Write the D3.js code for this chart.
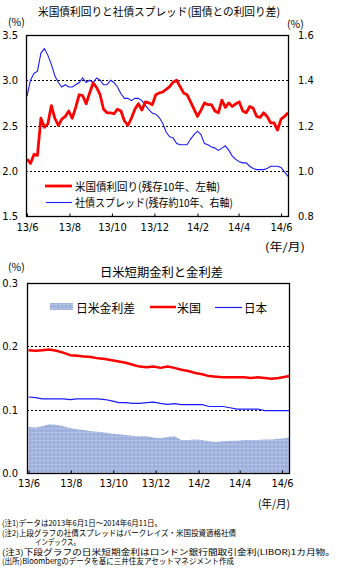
<!DOCTYPE html>
<html><head><meta charset="utf-8">
<script src="https://cdn.jsdelivr.net/npm/d3@7/dist/d3.min.js"></script>
<style>
html,body{margin:0;padding:0;background:#fff;}
svg{display:block;font-family:"Noto Sans CJK JP","Noto Sans",sans-serif;}
</style></head>
<body>
<svg id="c" width="359" height="587"></svg>
<script>
// ---------- DATA ----------
const topDates = [
"2013-06-01","2013-06-06","2013-06-11","2013-06-16","2013-06-21","2013-06-26",
"2013-07-01","2013-07-06","2013-07-11","2013-07-16","2013-07-21","2013-07-26","2013-07-31",
"2013-08-05","2013-08-10","2013-08-15","2013-08-20","2013-08-25","2013-08-30",
"2013-09-04","2013-09-09","2013-09-14","2013-09-19","2013-09-24","2013-09-29",
"2013-10-04","2013-10-09","2013-10-14","2013-10-19","2013-10-24","2013-10-29",
"2013-11-03","2013-11-08","2013-11-13","2013-11-18","2013-11-23","2013-11-28",
"2013-12-03","2013-12-08","2013-12-13","2013-12-18","2013-12-23","2013-12-28",
"2014-01-02","2014-01-07","2014-01-12","2014-01-17","2014-01-22","2014-01-27",
"2014-02-01","2014-02-06","2014-02-11","2014-02-16","2014-02-21","2014-02-26",
"2014-03-03","2014-03-08","2014-03-13","2014-03-18","2014-03-23","2014-03-28",
"2014-04-02","2014-04-07","2014-04-12","2014-04-17","2014-04-22","2014-04-27",
"2014-05-02","2014-05-07","2014-05-12","2014-05-17","2014-05-22","2014-05-27",
"2014-06-01","2014-06-06","2014-06-11"];
// US 10y treasury yield (%, left axis)
const usYield = [
2.13,2.08,2.18,2.17,2.58,2.48,2.52,2.72,2.58,2.50,2.57,2.60,2.66,
2.58,2.70,2.84,2.83,2.74,2.86,2.97,2.92,2.84,2.68,2.64,2.64,
2.63,2.68,2.66,2.55,2.50,2.58,2.68,2.74,2.67,2.76,2.75,2.73,
2.84,2.86,2.87,2.90,2.93,2.98,3.00,2.93,2.86,2.84,2.76,2.68,
2.60,2.67,2.75,2.73,2.73,2.66,2.64,2.78,2.70,2.75,2.71,2.74,
2.76,2.66,2.64,2.71,2.69,2.60,2.59,2.64,2.60,2.53,2.53,2.45,
2.57,2.60,2.64];
// corporate spread (%, right axis)
const corpSpread = [
1.33,1.40,1.43,1.44,1.52,1.54,1.51,1.47,1.42,1.39,1.37,1.38,1.37,
1.37,1.38,1.39,1.41,1.39,1.40,1.39,1.41,1.40,1.38,1.38,1.40,
1.39,1.37,1.34,1.32,1.32,1.31,1.32,1.32,1.31,1.29,1.27,1.255,
1.25,1.235,1.21,1.17,1.15,1.145,1.12,1.115,1.115,1.115,1.14,1.16,
1.175,1.16,1.12,1.115,1.105,1.10,1.09,1.10,1.11,1.09,1.065,1.05,
1.04,1.035,1.035,1.02,1.01,1.005,1.005,1.005,1.01,1.02,1.02,1.02,
1.015,0.995,0.975];

const botDates = [
"2013-06-01","2013-06-11","2013-06-21","2013-07-01","2013-07-11","2013-07-21","2013-07-31",
"2013-08-10","2013-08-20","2013-08-30","2013-09-09","2013-09-19","2013-09-29",
"2013-10-09","2013-10-19","2013-10-29","2013-11-08","2013-11-18","2013-11-28",
"2013-12-08","2013-12-18","2013-12-28","2014-01-07","2014-01-17","2014-01-27",
"2014-02-06","2014-02-16","2014-02-26","2014-03-08","2014-03-18","2014-03-28",
"2014-04-07","2014-04-17","2014-04-27","2014-05-07","2014-05-17","2014-05-27",
"2014-06-06","2014-06-11"];
const usRate = [
0.194,0.193,0.194,0.195,0.193,0.190,0.186,0.185,0.184,0.183,0.181,0.180,0.178,
0.176,0.174,0.171,0.168,0.167,0.168,0.166,0.168,0.166,0.163,0.161,0.158,
0.156,0.153,0.152,0.151,0.151,0.151,0.151,0.150,0.151,0.150,0.149,0.150,
0.152,0.153];
const jpRate = [
0.120,0.119,0.117,0.117,0.117,0.117,0.116,0.117,0.117,0.117,0.117,0.116,0.114,
0.111,0.111,0.110,0.110,0.111,0.112,0.110,0.1085,0.1095,0.108,0.108,0.108,
0.108,0.105,0.105,0.105,0.103,0.101,0.101,0.101,0.101,0.0985,0.0985,0.0985,
0.0985,0.0985];
const rateGap = [
0.073,0.072,0.074,0.077,0.076,0.074,0.071,0.069,0.068,0.066,0.065,0.064,0.062,
0.061,0.060,0.059,0.058,0.058,0.056,0.055,0.057,0.058,0.052,0.052,0.053,
0.052,0.050,0.049,0.050,0.051,0.051,0.052,0.052,0.052,0.053,0.053,0.054,
0.055,0.056];

const xTickDates = ["2013-06-01","2013-08-01","2013-10-01","2013-12-01","2014-02-01","2014-04-01","2014-06-01"];
const xTickLabels = ["13/6","13/8","13/10","13/12","14/2","14/4","14/6"];
const topLeftTicks = [1.5,2.0,2.5,3.0,3.5];
const topRightTicks = [0.8,1.0,1.2,1.4,1.6];
const botTicks = [0.0,0.1,0.2,0.3];

const notes = [
"(注1)データは2013年6月1日～2014年6月11日。",
"(注2)上段グラフの社債スプレッドはバークレイズ・米国投資適格社債",
"インデックス。",
"(注3)下段グラフの日米短期金利はロンドン銀行間取引金利(LIBOR)1カ月物。",
"(出所)Bloombergのデータを基に三井住友アセットマネジメント作成"];

// ---------- DRAW ----------
const parse = d3.timeParse("%Y-%m-%d");
const svg = d3.select("#c");
const RED = "#ff0000", BLUE = "#1a1aff";
const fmt1 = d3.format(".1f");
const NUMFONT = "'DejaVu Sans Condensed','DejaVu Sans',sans-serif";

// pattern for area
const defs = svg.append("defs");
const pat = defs.append("pattern").attr("id","stip").attr("width",4).attr("height",4).attr("patternUnits","userSpaceOnUse");
pat.append("rect").attr("width",4).attr("height",4).attr("fill","#a3b5df");
pat.append("rect").attr("x",0).attr("y",0).attr("width",1).attr("height",1).attr("fill","#c3cfe9");
pat.append("rect").attr("x",2).attr("y",2).attr("width",1).attr("height",1).attr("fill","#8ea3d6");
pat.append("rect").attr("x",3).attr("y",0).attr("width",1).attr("height",1).attr("fill","#b5c7d8");
pat.append("rect").attr("x",1).attr("y",3).attr("width",1).attr("height",1).attr("fill","#98acd9");

function txt(x,y,s,size,opts={}){
  const t = svg.append("text").attr("x",x).attr("y",y).attr("font-size",size).attr("fill","#000").text(s);
  if(opts.anchor) t.attr("text-anchor",opts.anchor);
  if(opts.len){ t.attr("textLength",opts.len).attr("lengthAdjust","spacingAndGlyphs"); }
  if(opts.mid) t.attr("dominant-baseline","central");
  return t;
}

// ===== Top chart =====
const T = {l:26, r:288, t:35, b:216};
const xT = d3.scaleTime().domain([parse("2013-06-01"), parse("2014-06-11")]).range([27, 288]);
const yL = d3.scaleLinear().domain([1.5,3.5]).range([T.b, T.t]);
const yR = d3.scaleLinear().domain([0.8,1.6]).range([T.b, T.t]);

txt(38,16,"米国債利回りと社債スプレッド(国債との利回り差)",11,{len:242});
txt(8,26,"(%)",10.5);
txt(287,28,"(%)",10.5);

svg.append("g").selectAll("line").data([2.0,2.5,3.0]).join("line")
  .attr("x1",T.l).attr("x2",T.r).attr("y1",d=>Math.round(yL(d))+0.5).attr("y2",d=>Math.round(yL(d))+0.5)
  .attr("stroke","#000").attr("stroke-width",1).attr("stroke-dasharray","2,2");

const topData = topDates.map((d,i)=>({date:parse(d), us:usYield[i], sp:corpSpread[i]}));
svg.append("path").datum(topData)
  .attr("d", d3.line().x(d=>xT(d.date)).y(d=>yR(d.sp)))
  .attr("fill","none").attr("stroke",BLUE).attr("stroke-width",1.1);
svg.append("path").datum(topData)
  .attr("d", d3.line().x(d=>xT(d.date)).y(d=>yL(d.us)))
  .attr("fill","none").attr("stroke",RED).attr("stroke-width",2.8).attr("stroke-linejoin","round");

svg.append("rect").attr("x",T.l+0.5).attr("y",T.t+0.5).attr("width",T.r-T.l).attr("height",T.b-T.t)
  .attr("fill","none").attr("stroke","#000").attr("stroke-width",1.3);

const gxT = svg.append("g").attr("transform",`translate(0,${T.b+0.5})`)
  .call(d3.axisBottom(xT).tickValues(xTickDates.map(parse)).tickSizeInner(-3).tickSizeOuter(0).tickFormat((d,i)=>xTickLabels[i]));
gxT.select(".domain").remove();
gxT.selectAll("line").attr("stroke","#000");
gxT.selectAll("text").attr("y",7).attr("font-size",11).attr("font-family",NUMFONT).attr("dy","0.71em").attr("fill","#000");

const gyL = svg.append("g").attr("transform",`translate(${T.l},0)`)
  .call(d3.axisLeft(yL).tickValues(topLeftTicks).tickSize(0).tickFormat(fmt1));
gyL.select(".domain").remove();
gyL.selectAll("text").attr("x",-8).attr("font-size",11).attr("font-family",NUMFONT).attr("fill","#000");
const gyR = svg.append("g").attr("transform",`translate(${T.r},0)`)
  .call(d3.axisRight(yR).tickValues(topRightTicks).tickSize(0).tickFormat(fmt1));
gyR.select(".domain").remove();
gyR.selectAll("text").attr("x",10).attr("font-size",11).attr("font-family",NUMFONT).attr("fill","#000");

svg.append("line").attr("x1",45).attr("x2",72).attr("y1",186).attr("y2",186).attr("stroke",RED).attr("stroke-width",2.8);
txt(75,186,"米国債利回り(残存10年、左軸)",11,{len:145,mid:true});
svg.append("line").attr("x1",46).attr("x2",72).attr("y1",202.5).attr("y2",202.5).attr("stroke",BLUE).attr("stroke-width",1.1);
txt(75,202,"社債スプレッド(残存約10年、右軸)",11,{len:158,mid:true});

txt(265,251,"(年/月)",11,{len:40});

// ===== Bottom chart =====
const B = {l:27, r:289, t:283, b:473};
const xB = d3.scaleTime().domain([parse("2013-06-01"), parse("2014-06-11")]).range([28.5, 289]);
const yB = d3.scaleLinear().domain([0,0.3]).range([B.b, B.t]);

txt(8,271,"(%)",10.5);
txt(100,277,"日米短期金利と金利差",12.5,{len:123});

const botData = botDates.map((d,i)=>({date:parse(d), us:usRate[i], jp:jpRate[i], gap:rateGap[i]}));
svg.append("path").datum(botData)
  .attr("d", d3.area().x(d=>xB(d.date)).y0(yB(0)).y1(d=>yB(d.gap)))
  .attr("fill","url(#stip)");

svg.append("g").selectAll("line").data([0.1,0.2]).join("line")
  .attr("x1",B.l).attr("x2",B.r).attr("y1",d=>Math.round(yB(d))+0.5).attr("y2",d=>Math.round(yB(d))+0.5)
  .attr("stroke","#000").attr("stroke-width",1).attr("stroke-dasharray","2,2");

svg.append("path").datum(botData)
  .attr("d", d3.line().x(d=>xB(d.date)).y(d=>yB(d.jp)))
  .attr("fill","none").attr("stroke",BLUE).attr("stroke-width",1.2);
svg.append("path").datum(botData)
  .attr("d", d3.line().x(d=>xB(d.date)).y(d=>yB(d.us)))
  .attr("fill","none").attr("stroke",RED).attr("stroke-width",2.5).attr("stroke-linejoin","round");

svg.append("rect").attr("x",B.l+0.5).attr("y",B.t+0.5).attr("width",B.r-B.l).attr("height",B.b-B.t)
  .attr("fill","none").attr("stroke","#000").attr("stroke-width",1.3);

const gxB = svg.append("g").attr("transform",`translate(0,${B.b+0.5})`)
  .call(d3.axisBottom(xB).tickValues(xTickDates.map(parse)).tickSizeInner(-3).tickSizeOuter(0).tickFormat((d,i)=>xTickLabels[i]));
gxB.select(".domain").remove();
gxB.selectAll("line").attr("stroke","#000");
gxB.selectAll("text").attr("y",6).attr("font-size",11).attr("font-family",NUMFONT).attr("dy","0.71em").attr("fill","#000");

const gyB = svg.append("g").attr("transform",`translate(${B.l},0)`)
  .call(d3.axisLeft(yB).tickValues(botTicks).tickSize(0).tickFormat(fmt1));
gyB.select(".domain").remove();
gyB.selectAll("text").attr("x",-9).attr("font-size",11).attr("font-family",NUMFONT).attr("fill","#000");

svg.append("rect").attr("x",50).attr("y",303).attr("width",23).attr("height",7).attr("fill","url(#stip)");
txt(76,307,"日米金利差",12,{len:59,mid:true});
svg.append("line").attr("x1",150).attr("x2",176).attr("y1",307).attr("y2",307).attr("stroke",RED).attr("stroke-width",2.5);
txt(177,307,"米国",12,{len:24,mid:true});
svg.append("line").attr("x1",215).attr("x2",242).attr("y1",307.5).attr("y2",307.5).attr("stroke",BLUE).attr("stroke-width",1.2);
txt(244,307,"日本",12,{len:23,mid:true});

txt(258,508,"(年/月)",11,{len:32});

// notes
const noteX = [2,2,35,2,2];
const noteY = [526,535.5,545,554.5,564];
const noteLen = [160,234,45,333,232];
notes.forEach((s,i)=>txt(noteX[i],noteY[i],s,8,{len:noteLen[i]}));
</script>
</body></html>
